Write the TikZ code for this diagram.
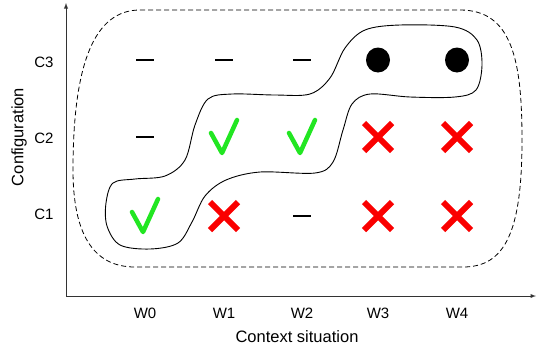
\documentclass[tikz,border=0pt]{standalone}
\usepackage{fontspec}
\setmainfont{Liberation Sans}
\usepackage{tikz}
\definecolor{okgreen}{RGB}{34,230,34}
\definecolor{badred}{RGB}{250,0,0}
\tikzset{
  check/.pic={\draw[okgreen,line width=4.5pt,line cap=round,line join=round]
    (-13,-4) -- (-2,16) -- (13,-17);},
  cross/.pic={\draw[badred,line width=6pt]
    (-14,-14) -- (14,14) (-14,14) -- (14,-14);},
  dash/.pic={\draw[line width=2.2pt] (-9,0) -- (9,0);},
  dot/.pic={\fill (0,0) ellipse (12 and 12.5);}
}

\begin{document}
\begin{tikzpicture}
[x=1pt,y=-1pt,every node/.style={font=\fontsize{15}{17}\selectfont},
 axis/.style={->,>=latex,line width=0.9pt,draw=black!80}]
  \useasboundingbox (0,0) rectangle (537,349);

  % grid of situations x configurations
  \foreach \i/\x in {0/145,1/224,2/302,3/378,4/457}{
    \node (w\i) at (\x,313) {W\i};
    \foreach \j/\y in {1/216,2/137,3/60}
      \coordinate (g\i\j) at (\x,\y);
  }
  \foreach \j/\y in {1/214,2/138,3/62}
    \node (c\j) at (44,\y) {C\j};

  % axes
  \coordinate (o) at (66,296);
  \coordinate (ytop) at (66,3);
  \coordinate (xend) at (536,296);
  \draw[axis] (o) -- (ytop);
  \draw[axis] (o) -- (xend);
  \node[font=\fontsize{16.5}{19}\selectfont] (xlab) at (297,337) {Context situation};
  \node[font=\fontsize{16.5}{19}\selectfont,rotate=90] (ylab) at (19,137) {Configuration};

  % valid region (dashed)
  \draw[dash pattern=on 5pt off 3pt,line width=0.8pt]
    (140,10) -- (460,10) .. controls (512,10) and (522,60) .. (522,140)
    .. controls (522,232) and (505,267) .. (463,267) -- (135,267)
    .. controls (92,267) and (73,232) .. (73,170)
    .. controls (73,62) and (95,10) .. (140,10);

  % chosen path
  \draw[line width=0.9pt] plot[smooth cycle,tension=0.55] coordinates {
    (106,203) (113,183) (135,179) (165,176) (185,160) (195,125) (208,99)
    (232,94) (275,95) (310,94) (330,78) (345,48) (365,30) (400,25)
    (455,27) (477,40) (482,65) (476,90) (455,97) (410,97) (370,94)
    (352,104) (343,130) (333,162) (315,173) (260,172) (226,180)
    (205,196) (192,222) (178,243) (150,249) (120,245) (107,226)};

  \foreach \g/\kind in {g03/dash,g13/dash,g23/dash,g33/dot,g43/dot,
                        g02/dash,g12/check,g22/check,g32/cross,g42/cross,
                        g01/check,g11/cross,g21/dash,g31/cross,g41/cross}
    \pic at (\g) {\kind};
\end{tikzpicture}
\end{document}
